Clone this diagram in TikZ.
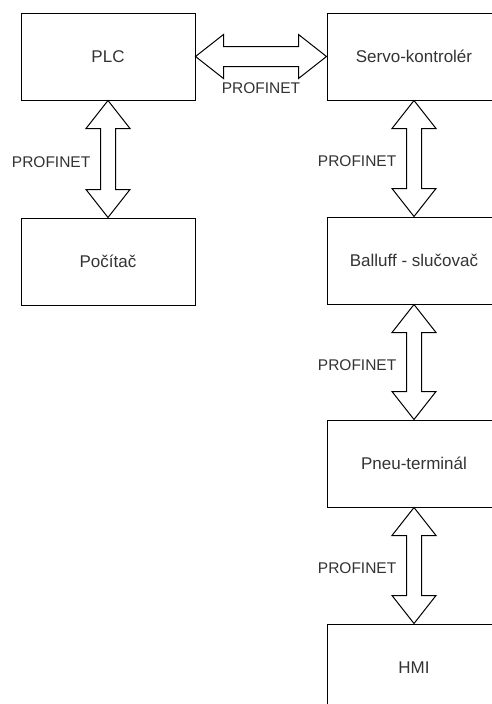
\documentclass[tikz,border=0pt]{standalone}
\usepackage{fontspec}
\setmainfont{Liberation Sans}
\usetikzlibrary{positioning,calc}
\definecolor{txtgray}{HTML}{333333}
\tikzset{
  box/.style={draw, line width=1pt, minimum width=174pt, minimum height=87pt, inner sep=0pt, font=\fontsize{17}{20}\selectfont, text=txtgray},
  flow/.style={draw, line width=1pt, line join=miter, fill=white},
  lbl/.style={font=\fontsize{15.5}{18}\selectfont, text=txtgray, inner sep=0pt},
}
\begin{document}
\begin{tikzpicture}[x=1pt,y=-1pt]
\useasboundingbox (0,0) rectangle (492,704);
% bloky
\node[box] (plc) at (108,56.5) {PLC};
\node[box, right=131pt of plc] (servo) {Servo-kontrolér};
\node[box, below=117pt of plc] (pc) {Počítač};
\node[box, below=116pt of servo] (balluff) {Balluff - slučovač};
\node[box, below=115pt of balluff] (pneu) {Pneu-terminál};
\node[box, below=116pt of pneu] (hmi) {HMI};
% PLC <-> servo
\draw[flow] (plc.east) -- ($(plc.east)+(28,-22)$) -- ($(plc.east)+(28,-10)$) -- ($(servo.west)+(-28,-10)$) -- ($(servo.west)+(-28,-22)$) -- (servo.west) -- ($(servo.west)+(-28,22)$) -- ($(servo.west)+(-28,10)$) -- ($(plc.east)+(28,10)$) -- ($(plc.east)+(28,22)$) -- cycle;
\node[lbl] (l0) at ($($(plc.east)!0.5!(servo.west)$)+(0,31.5)$) {PROFINET};
% svisle sipky
\foreach \a/\b/\n in {plc/pc/1, servo/balluff/2, balluff/pneu/3, pneu/hmi/4}{
  \draw[flow] (\a.south) -- ($(\a.south)+(22,28)$) -- ($(\a.south)+(7.5,28)$) -- ($(\b.north)+(7.5,-28)$) -- ($(\b.north)+(22,-28)$) -- (\b.north) -- ($(\b.north)+(-22,-28)$) -- ($(\b.north)+(-7.5,-28)$) -- ($(\a.south)+(-7.5,28)$) -- ($(\a.south)+(-22,28)$) -- cycle;
  \node[lbl, anchor=east] (l\n) at ($($(\a.south)!0.5!(\b.north)$)+(-17.5,3)$) {PROFINET};
}
\end{tikzpicture}
\end{document}
